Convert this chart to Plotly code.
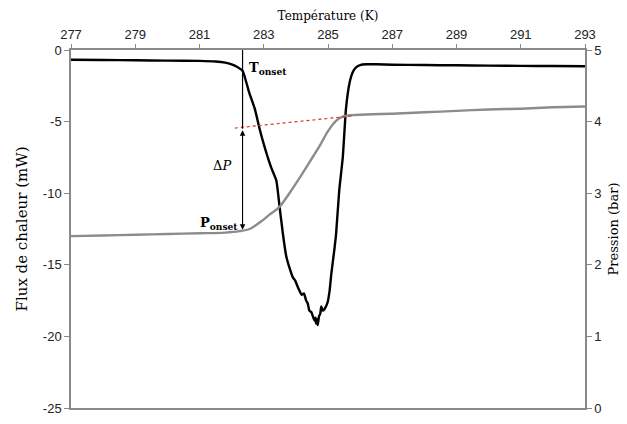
import plotly.graph_objects as go

# Heat flow (mW) versus temperature (K)
temp_flux = [277.0, 278.0, 279.0, 280.0, 281.0, 281.5, 281.8, 282.0, 282.15, 282.34,
             282.45, 282.55, 282.72, 282.87, 283.03, 283.23, 283.39, 283.49, 283.6, 283.7,
             283.8, 283.91, 283.98, 284.05, 284.11, 284.18, 284.25, 284.32, 284.37, 284.42,
             284.48, 284.53, 284.58, 284.61, 284.63, 284.66, 284.68, 284.72, 284.76, 284.79,
             284.84, 284.89, 284.94, 284.99, 285.05, 285.10, 285.20, 285.25, 285.35, 285.46,
             285.56, 285.67, 285.78, 285.88, 286.0, 286.19, 286.5, 287.0, 288.0, 289.0,
             290.0, 291.0, 292.0, 293.0]
flux = [-0.68, -0.70, -0.72, -0.74, -0.76, -0.80, -0.88, -1.0, -1.15, -1.45,
        -2.2, -3.0, -4.1, -5.5, -6.8, -8.2, -9.1, -10.9, -12.9, -14.4,
        -15.2, -15.9, -16.1, -16.5, -16.8, -17.1, -17.0, -17.5, -17.7, -18.2,
        -18.3, -18.6, -18.9, -18.7, -19.1, -18.8, -19.2, -18.6, -18.4, -17.9,
        -18.2, -18.1, -17.9, -17.6, -16.8, -15.7, -13.9, -12.9, -9.8, -7.5,
        -4.1, -2.3, -1.5, -1.2, -1.05, -1.0, -1.0, -1.03, -1.05, -1.07,
        -1.09, -1.11, -1.12, -1.14]

# Pressure (bar) versus temperature (K)
temp_pres = [277.0, 278.0, 279.0, 280.0, 281.0, 281.8, 282.25, 282.56, 282.87, 283.18,
             283.49, 283.8, 284.11, 284.42, 284.74, 284.99, 285.25, 285.46, 285.77, 286.19,
             287.0, 288.0, 289.0, 290.0, 291.0, 292.0, 293.0]
pression = [2.40, 2.41, 2.42, 2.43, 2.44, 2.45, 2.47, 2.50, 2.59, 2.70,
            2.81, 3.00, 3.21, 3.43, 3.66, 3.86, 4.01, 4.07, 4.09, 4.10,
            4.11, 4.13, 4.15, 4.17, 4.18, 4.20, 4.21]

# Baseline extrapolation of the pressure plateau
temp_base = [282.1, 285.77]
pres_base = [3.91, 4.08]

# Onset markers
t_onset = 282.34
p_onset = 2.49
p_base_at_onset = 3.90

# Axis ticks
x_ticks = [277, 279, 281, 283, 285, 287, 289, 291, 293]
y_ticks = [0, -5, -10, -15, -20, -25]
y_ticktext = ["0", "-5", "-10", "-15", "-20", "-25"]
y2_ticks = [0, 1, 2, 3, 4, 5]

serif = "DejaVu Serif, Liberation Serif, serif"
narrow = "Liberation Sans Narrow, Arial Narrow, Liberation Sans, sans-serif"
axis_grey = "#8a8a8a"

fig = go.Figure()

fig.add_trace(go.Scatter(x=temp_flux, y=flux, mode="lines",
                         line=dict(color="black", width=2.4, shape="spline", smoothing=0.5),
                         yaxis="y", showlegend=False))
fig.add_trace(go.Scatter(x=temp_pres, y=pression, mode="lines",
                         line=dict(color="#8c8c8c", width=2.4, shape="spline", smoothing=0.8),
                         yaxis="y2", showlegend=False))
fig.add_trace(go.Scatter(x=temp_base, y=pres_base, mode="lines",
                         line=dict(color="#e03030", width=1.2, dash="dot"),
                         yaxis="y2", showlegend=False))

# Onset temperature line
fig.add_shape(type="line", xref="x", yref="y2",
              x0=t_onset, x1=t_onset, y0=5, y1=p_base_at_onset,
              line=dict(color="black", width=1.2))

# Pressure drop double arrow
fig.add_annotation(x=t_onset, y=p_onset, ax=t_onset, ay=p_base_at_onset,
                   xref="x", yref="y2", axref="x", ayref="y2",
                   showarrow=True, arrowhead=2, arrowside="end+start",
                   arrowsize=1, arrowwidth=1.1, arrowcolor="black", text="")

fig.add_annotation(x=282.47, y=4.74, xref="x", yref="y2", xanchor="left", yanchor="middle",
                   text="<b>T</b><sub><b>onset</b></sub>", showarrow=False,
                   font=dict(family=serif, size=13, color="black"))
fig.add_annotation(x=282.25, y=2.58, xref="x", yref="y2", xanchor="right", yanchor="middle",
                   text="<b>P</b><sub><b>onset</b></sub>", showarrow=False,
                   font=dict(family=serif, size=13, color="black"))
fig.add_annotation(x=281.7, y=3.39, xref="x", yref="y2", xanchor="center", yanchor="middle",
                   text="Δ<i>P</i>", showarrow=False,
                   font=dict(family=serif, size=13, color="black"))

fig.update_layout(
    width=627, height=424,
    margin=dict(l=71, r=41, t=50, b=8),
    paper_bgcolor="white", plot_bgcolor="white",
    xaxis=dict(range=[277, 293], side="top", tickvals=x_ticks,
               ticks="outside", ticklen=4, tickcolor=axis_grey,
               showline=True, linecolor=axis_grey, linewidth=1.5, mirror=True,
               showgrid=False, zeroline=False,
               tickfont=dict(family=narrow, size=13, color="#222"),
               title=dict(text="Température (K)", standoff=4,
                          font=dict(family=serif, size=12, color="black"))),
    yaxis=dict(range=[-25, 0], tickvals=y_ticks, ticktext=y_ticktext,
               ticks="outside", ticklen=5, tickcolor=axis_grey,
               showline=True, linecolor=axis_grey, linewidth=1.5,
               showgrid=False, zeroline=False,
               tickfont=dict(family=narrow, size=13, color="#222"),
               title=dict(text="Flux de chaleur (mW)", standoff=12,
                          font=dict(family=serif, size=15, color="black"))),
    yaxis2=dict(range=[0, 5], tickvals=y2_ticks, overlaying="y", side="right",
                ticks="outside", ticklen=5, tickcolor=axis_grey,
                showline=True, linecolor=axis_grey, linewidth=1.5,
                showgrid=False, zeroline=False,
                tickfont=dict(family=narrow, size=13, color="#222"),
                title=dict(text="Pression (bar)", standoff=8,
                           font=dict(family=serif, size=13, color="black"))),
)

fig.write_html("out.html")
